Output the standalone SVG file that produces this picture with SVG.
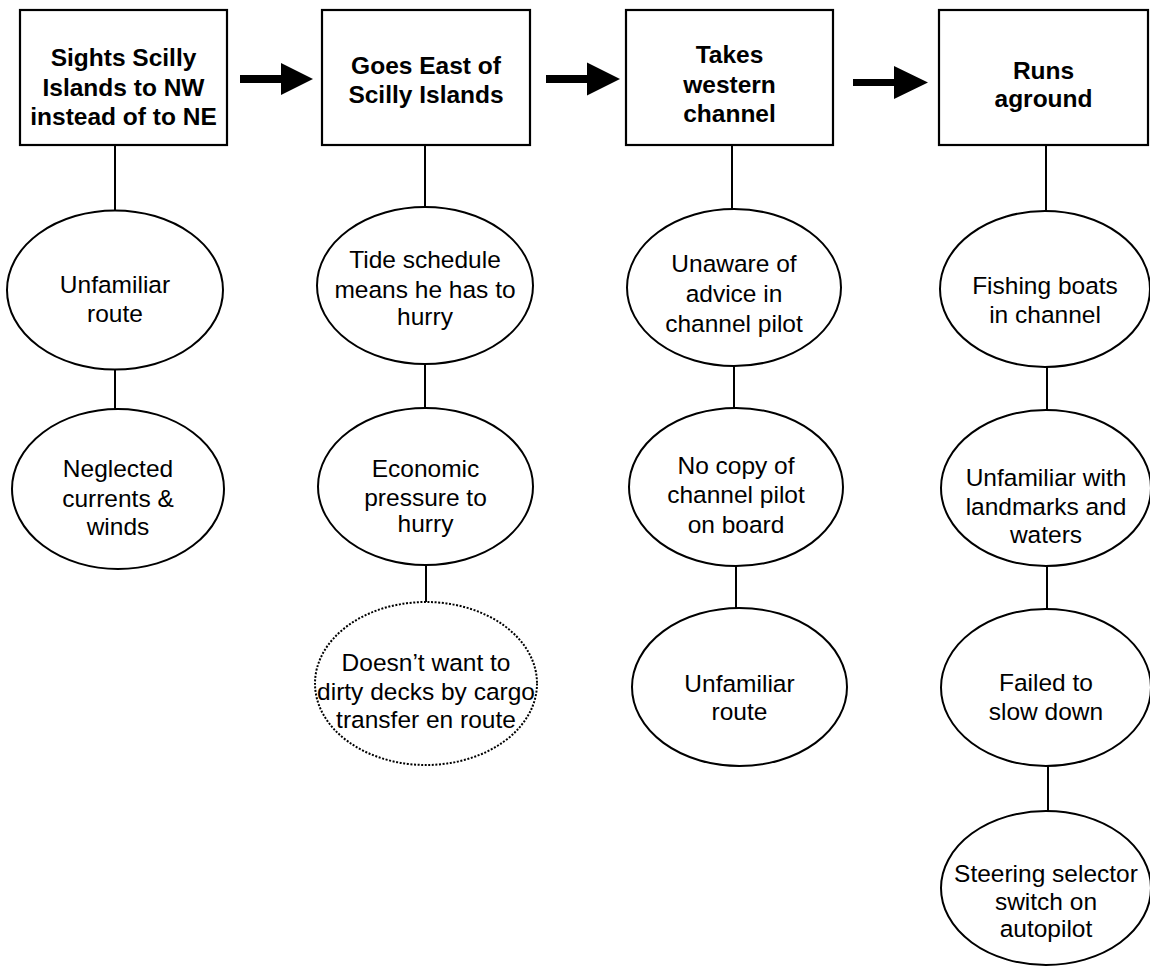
<svg xmlns="http://www.w3.org/2000/svg" width="1150" height="968" viewBox="0 0 1150 968">
<style>
.box{fill:#fff;stroke:#000;stroke-width:2.2}
.ell{fill:#fff;stroke:#000;stroke-width:2}
.dot{fill:#fff;stroke:#000;stroke-width:2;stroke-dasharray:2 1.6}
.ln{stroke:#000;stroke-width:2;fill:none}
.arr{fill:#000;stroke:none}
text{font-family:"Liberation Sans",Arial,sans-serif;font-size:24.5px;fill:#000;text-anchor:middle}
.b{font-weight:bold}
</style>
<rect width="1150" height="968" fill="#fff"/>
<g id="connectors">
<line class="ln" x1="115" y1="145" x2="115" y2="211"/>
<line class="ln" x1="115" y1="369" x2="115" y2="409"/>
<line class="ln" x1="425" y1="145" x2="425" y2="207"/>
<line class="ln" x1="425" y1="364" x2="425" y2="408"/>
<line class="ln" x1="426" y1="565" x2="426" y2="602"/>
<line class="ln" x1="732" y1="145" x2="732" y2="209"/>
<line class="ln" x1="734" y1="366" x2="734" y2="408"/>
<line class="ln" x1="736" y1="566" x2="736" y2="608"/>
<line class="ln" x1="1046" y1="145" x2="1046" y2="211"/>
<line class="ln" x1="1047" y1="366" x2="1047" y2="410"/>
<line class="ln" x1="1047" y1="566" x2="1047" y2="609"/>
<line class="ln" x1="1048" y1="765" x2="1048" y2="811"/>
<polygon class="arr" points="240,75 281,75 281,63 313,79 281,95 281,83 240,83"/>
<polygon class="arr" points="546,75 587,75 587,62.5 620,79 587,95.5 587,83 546,83"/>
<polygon class="arr" points="853,79 894,79 894,66 928,82.5 894,99 894,86 853,86"/>
</g>
<g id="box1"><rect class="box" x="20" y="10" width="207" height="135"/>
<text class="b" x="123.5" y="66">Sights Scilly</text><text class="b" x="123.5" y="96">Islands to NW</text><text class="b" x="123.5" y="125">instead of to NE</text></g>
<g id="box2"><rect class="box" x="322" y="10" width="208" height="135"/>
<text class="b" x="426" y="74">Goes East of</text><text class="b" x="426" y="103">Scilly Islands</text></g>
<g id="box3"><rect class="box" x="626" y="10" width="207" height="135"/>
<text class="b" x="729.5" y="63">Takes</text><text class="b" x="729.5" y="93">western</text><text class="b" x="729.5" y="122">channel</text></g>
<g id="box4"><rect class="box" x="939" y="10" width="209" height="135"/>
<text class="b" x="1043.5" y="79">Runs</text><text class="b" x="1043.5" y="107">aground</text></g>

<g id="c1a"><ellipse class="ell" cx="115" cy="290" rx="108" ry="79.5"/>
<text x="115" y="293">Unfamiliar</text><text x="115" y="322">route</text></g>
<g id="c1b"><ellipse class="ell" cx="118" cy="489" rx="106" ry="80"/>
<text x="118" y="477">Neglected</text><text x="118" y="507">currents &amp;</text><text x="118" y="535">winds</text></g>

<g id="c2a"><ellipse class="ell" cx="425" cy="285.5" rx="108" ry="78.5"/>
<text x="425" y="268">Tide schedule</text><text x="425" y="298">means he has to</text><text x="425" y="325">hurry</text></g>
<g id="c2b"><ellipse class="ell" cx="425.5" cy="486.5" rx="107.5" ry="78.5"/>
<text x="425.5" y="477">Economic</text><text x="425.5" y="506">pressure to</text><text x="425.5" y="532">hurry</text></g>
<g id="c2c"><ellipse class="dot" cx="426" cy="683.5" rx="111" ry="81.5"/>
<text x="426" y="671">Doesn’t want to</text><text x="426" y="700">dirty decks by cargo</text><text x="426" y="728">transfer en route</text></g>

<g id="c3a"><ellipse class="ell" cx="734" cy="287.5" rx="107" ry="78.5"/>
<text x="734" y="272">Unaware of</text><text x="734" y="302">advice in</text><text x="734" y="332">channel pilot</text></g>
<g id="c3b"><ellipse class="ell" cx="736" cy="487" rx="107" ry="79"/>
<text x="736" y="474">No copy of</text><text x="736" y="503">channel pilot</text><text x="736" y="533">on board</text></g>
<g id="c3c"><ellipse class="ell" cx="739.5" cy="687" rx="107.5" ry="79"/>
<text x="739.5" y="692">Unfamiliar</text><text x="739.5" y="720">route</text></g>

<g id="c4a"><ellipse class="ell" cx="1045" cy="289" rx="105" ry="78"/>
<text x="1045" y="294">Fishing boats</text><text x="1045" y="323">in channel</text></g>
<g id="c4b"><ellipse class="ell" cx="1046" cy="488" rx="105" ry="78"/>
<text x="1046" y="486">Unfamiliar with</text><text x="1046" y="515">landmarks and</text><text x="1046" y="543">waters</text></g>
<g id="c4c"><ellipse class="ell" cx="1046" cy="687.5" rx="105" ry="78.5"/>
<text x="1046" y="691">Failed to</text><text x="1046" y="720">slow down</text></g>
<g id="c4d"><ellipse class="ell" cx="1046" cy="888" rx="105" ry="77"/>
<text x="1046" y="882">Steering selector</text><text x="1046" y="910">switch on</text><text x="1046" y="937">autopilot</text></g>
</svg>
